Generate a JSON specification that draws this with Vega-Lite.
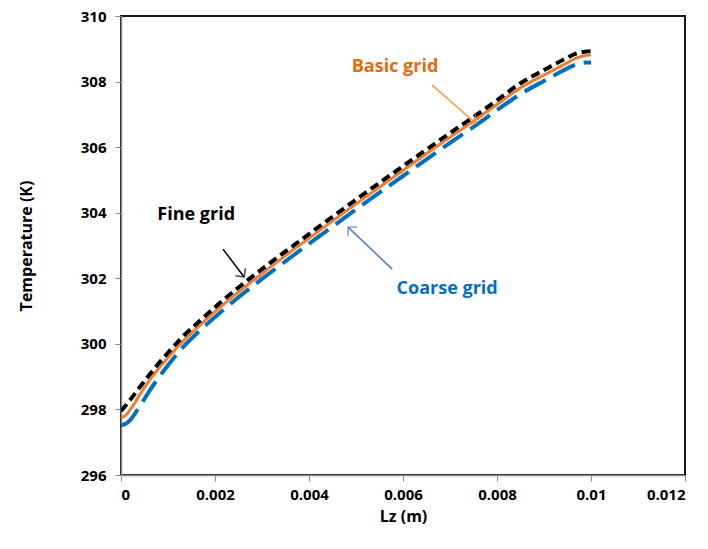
{
  "$schema": "https://vega.github.io/schema/vega-lite/v6.json",
  "width": 564,
  "height": 459,
  "autosize": {"type": "none"},
  "padding": {"left": 121, "top": 16, "right": 23, "bottom": 74},
  "background": "white",
  "config": {
    "view": {"stroke": "#1a1a1a", "strokeWidth": 2},
    "font": "Open Sans",
    "axis": {
      "grid": false,
      "domainColor": "#888888",
      "domainWidth": 1.5,
      "tickColor": "#888888",
      "tickSize": 6,
      "tickWidth": 1,
      "labelFont": "Open Sans",
      "labelFontSize": 15,
      "labelFontWeight": "bold",
      "labelColor": "#000000",
      "titleFont": "Open Sans",
      "titleFontSize": 16,
      "titleFontWeight": "bold",
      "titleColor": "#000000"
    }
  },
  "datasets": {
    "curves": [
      {"series": "Fine grid", "Lz": 0, "T": 297.95},
      {"series": "Fine grid", "Lz": 0.0002, "T": 298.3},
      {"series": "Fine grid", "Lz": 0.0004, "T": 298.68},
      {"series": "Fine grid", "Lz": 0.0006, "T": 299.05},
      {"series": "Fine grid", "Lz": 0.0008, "T": 299.4},
      {"series": "Fine grid", "Lz": 0.001, "T": 299.73},
      {"series": "Fine grid", "Lz": 0.0013, "T": 300.2},
      {"series": "Fine grid", "Lz": 0.0016, "T": 300.6},
      {"series": "Fine grid", "Lz": 0.002, "T": 301.12},
      {"series": "Fine grid", "Lz": 0.0025, "T": 301.72},
      {"series": "Fine grid", "Lz": 0.003, "T": 302.28},
      {"series": "Fine grid", "Lz": 0.0035, "T": 302.82},
      {"series": "Fine grid", "Lz": 0.004, "T": 303.35},
      {"series": "Fine grid", "Lz": 0.005, "T": 304.4},
      {"series": "Fine grid", "Lz": 0.006, "T": 305.42},
      {"series": "Fine grid", "Lz": 0.007, "T": 306.43},
      {"series": "Fine grid", "Lz": 0.0076, "T": 307.02},
      {"series": "Fine grid", "Lz": 0.008, "T": 307.43},
      {"series": "Fine grid", "Lz": 0.0085, "T": 307.95},
      {"series": "Fine grid", "Lz": 0.009, "T": 308.35},
      {"series": "Fine grid", "Lz": 0.0094, "T": 308.66},
      {"series": "Fine grid", "Lz": 0.0097, "T": 308.86},
      {"series": "Fine grid", "Lz": 0.01, "T": 308.93},
      {"series": "Basic grid", "Lz": 0, "T": 297.75},
      {"series": "Basic grid", "Lz": 0.0001, "T": 297.82},
      {"series": "Basic grid", "Lz": 0.0002, "T": 298.0},
      {"series": "Basic grid", "Lz": 0.0004, "T": 298.45},
      {"series": "Basic grid", "Lz": 0.0006, "T": 298.88},
      {"series": "Basic grid", "Lz": 0.0008, "T": 299.25},
      {"series": "Basic grid", "Lz": 0.001, "T": 299.58},
      {"series": "Basic grid", "Lz": 0.0013, "T": 300.05},
      {"series": "Basic grid", "Lz": 0.0016, "T": 300.46},
      {"series": "Basic grid", "Lz": 0.002, "T": 300.98},
      {"series": "Basic grid", "Lz": 0.0025, "T": 301.58},
      {"series": "Basic grid", "Lz": 0.003, "T": 302.14},
      {"series": "Basic grid", "Lz": 0.0035, "T": 302.69},
      {"series": "Basic grid", "Lz": 0.004, "T": 303.22},
      {"series": "Basic grid", "Lz": 0.005, "T": 304.27},
      {"series": "Basic grid", "Lz": 0.006, "T": 305.29},
      {"series": "Basic grid", "Lz": 0.007, "T": 306.3},
      {"series": "Basic grid", "Lz": 0.0076, "T": 306.89},
      {"series": "Basic grid", "Lz": 0.008, "T": 307.3},
      {"series": "Basic grid", "Lz": 0.0085, "T": 307.81},
      {"series": "Basic grid", "Lz": 0.009, "T": 308.2},
      {"series": "Basic grid", "Lz": 0.0094, "T": 308.5},
      {"series": "Basic grid", "Lz": 0.0097, "T": 308.72},
      {"series": "Basic grid", "Lz": 0.0099, "T": 308.8},
      {"series": "Basic grid", "Lz": 0.01, "T": 308.81},
      {"series": "Coarse grid", "Lz": 0, "T": 297.52},
      {"series": "Coarse grid", "Lz": 0.0001, "T": 297.56},
      {"series": "Coarse grid", "Lz": 0.0002, "T": 297.68},
      {"series": "Coarse grid", "Lz": 0.0003, "T": 297.88},
      {"series": "Coarse grid", "Lz": 0.0004, "T": 298.1},
      {"series": "Coarse grid", "Lz": 0.0006, "T": 298.55},
      {"series": "Coarse grid", "Lz": 0.0008, "T": 298.97},
      {"series": "Coarse grid", "Lz": 0.001, "T": 299.35},
      {"series": "Coarse grid", "Lz": 0.0013, "T": 299.87},
      {"series": "Coarse grid", "Lz": 0.0016, "T": 300.3},
      {"series": "Coarse grid", "Lz": 0.002, "T": 300.82},
      {"series": "Coarse grid", "Lz": 0.0025, "T": 301.42},
      {"series": "Coarse grid", "Lz": 0.003, "T": 301.98},
      {"series": "Coarse grid", "Lz": 0.0035, "T": 302.52},
      {"series": "Coarse grid", "Lz": 0.004, "T": 303.05},
      {"series": "Coarse grid", "Lz": 0.005, "T": 304.1},
      {"series": "Coarse grid", "Lz": 0.006, "T": 305.12},
      {"series": "Coarse grid", "Lz": 0.007, "T": 306.13},
      {"series": "Coarse grid", "Lz": 0.0076, "T": 306.72},
      {"series": "Coarse grid", "Lz": 0.008, "T": 307.13},
      {"series": "Coarse grid", "Lz": 0.0085, "T": 307.62},
      {"series": "Coarse grid", "Lz": 0.009, "T": 308.02},
      {"series": "Coarse grid", "Lz": 0.0094, "T": 308.33},
      {"series": "Coarse grid", "Lz": 0.0097, "T": 308.53},
      {"series": "Coarse grid", "Lz": 0.0099, "T": 308.58},
      {"series": "Coarse grid", "Lz": 0.01, "T": 308.58}
    ],
    "labels": [
      {"series": "Basic grid", "Lz": 0.00583, "T": 308.44},
      {"series": "Fine grid", "Lz": 0.0016, "T": 303.93},
      {"series": "Coarse grid", "Lz": 0.00694, "T": 301.67}
    ],
    "arrows": [
      {"series": "Basic grid", "Lz": 0.00662, "T": 307.89, "Lz2": 0.00755, "T2": 306.73},
      {"series": "Fine grid", "Lz": 0.00217, "T": 302.89, "Lz2": 0.00262, "T2": 302.04},
      {"series": "Coarse grid", "Lz": 0.00577, "T": 302.28, "Lz2": 0.00483, "T2": 303.56}
    ]
  },
  "layer": [
    {
      "data": {"name": "curves"},
      "transform": [{"filter": "datum.series == 'Coarse grid'"}],
      "mark": {"type": "line", "color": "#0070C0", "strokeWidth": 4, "strokeDash": [24, 9], "interpolate": "monotone", "clip": true},
      "encoding": {
        "x": {"field": "Lz", "type": "quantitative", "scale": {"domain": [0, 0.012], "nice": false}, "axis": {"values": [0, 0.002, 0.004, 0.006, 0.008, 0.01, 0.012], "format": "~g", "title": "Lz (m)", "labelPadding": 6, "titlePadding": 6}},
        "y": {"field": "T", "type": "quantitative", "scale": {"domain": [296, 310], "nice": false, "zero": false}, "axis": {"values": [296, 298, 300, 302, 304, 306, 308, 310], "title": "Temperature (K)", "labelPadding": 9, "titlePadding": 46}}
      }
    },
    {
      "data": {"name": "curves"},
      "transform": [{"filter": "datum.series == 'Basic grid'"}],
      "mark": {"type": "line", "color": "#ED7D31", "strokeWidth": 3, "interpolate": "monotone", "clip": true},
      "encoding": {
        "x": {"field": "Lz", "type": "quantitative"},
        "y": {"field": "T", "type": "quantitative"}
      }
    },
    {
      "data": {"name": "curves"},
      "transform": [{"filter": "datum.series == 'Fine grid'"}],
      "mark": {"type": "line", "color": "#000000", "strokeWidth": 4, "strokeDash": [9, 5], "interpolate": "monotone", "clip": true},
      "encoding": {
        "x": {"field": "Lz", "type": "quantitative"},
        "y": {"field": "T", "type": "quantitative"}
      }
    },
    {
      "data": {"name": "arrows"},
      "mark": {"type": "rule", "strokeWidth": 1.5},
      "encoding": {
        "x": {"field": "Lz", "type": "quantitative"},
        "y": {"field": "T", "type": "quantitative"},
        "x2": {"field": "Lz2"},
        "y2": {"field": "T2"},
        "color": {"field": "series", "type": "nominal", "scale": {"domain": ["Basic grid", "Fine grid", "Coarse grid"], "range": ["#F79646", "#000000", "#4F81BD"]}, "legend": null}
      }
    },
    {
      "data": {"name": "arrows"},
      "transform": [{"filter": "datum.series == 'Basic grid'"}],
      "mark": {"type": "point", "shape": "M-1,1L0,0L1,1", "filled": false, "size": 160, "strokeWidth": 1.5, "color": "#F79646", "angle": 131},
      "encoding": {
        "x": {"field": "Lz2", "type": "quantitative"},
        "y": {"field": "T2", "type": "quantitative"}
      }
    },
    {
      "data": {"name": "arrows"},
      "transform": [{"filter": "datum.series == 'Fine grid'"}],
      "mark": {"type": "point", "shape": "M-1,1L0,0L1,1", "filled": false, "size": 160, "strokeWidth": 1.5, "color": "#000000", "angle": 143},
      "encoding": {
        "x": {"field": "Lz2", "type": "quantitative"},
        "y": {"field": "T2", "type": "quantitative"}
      }
    },
    {
      "data": {"name": "arrows"},
      "transform": [{"filter": "datum.series == 'Coarse grid'"}],
      "mark": {"type": "point", "shape": "M-1,1L0,0L1,1", "filled": false, "size": 160, "strokeWidth": 1.5, "color": "#4F81BD", "angle": 314},
      "encoding": {
        "x": {"field": "Lz2", "type": "quantitative"},
        "y": {"field": "T2", "type": "quantitative"}
      }
    },
    {
      "data": {"name": "labels"},
      "mark": {"type": "text", "font": "Open Sans", "fontSize": 18, "fontWeight": "bold", "align": "center", "baseline": "middle"},
      "encoding": {
        "x": {"field": "Lz", "type": "quantitative"},
        "y": {"field": "T", "type": "quantitative"},
        "text": {"field": "series"},
        "color": {"field": "series", "type": "nominal", "scale": {"domain": ["Basic grid", "Fine grid", "Coarse grid"], "range": ["#E46C0A", "#000000", "#0070C0"]}, "legend": null}
      }
    }
  ],
  "resolve": {"scale": {"color": "independent"}}
}
